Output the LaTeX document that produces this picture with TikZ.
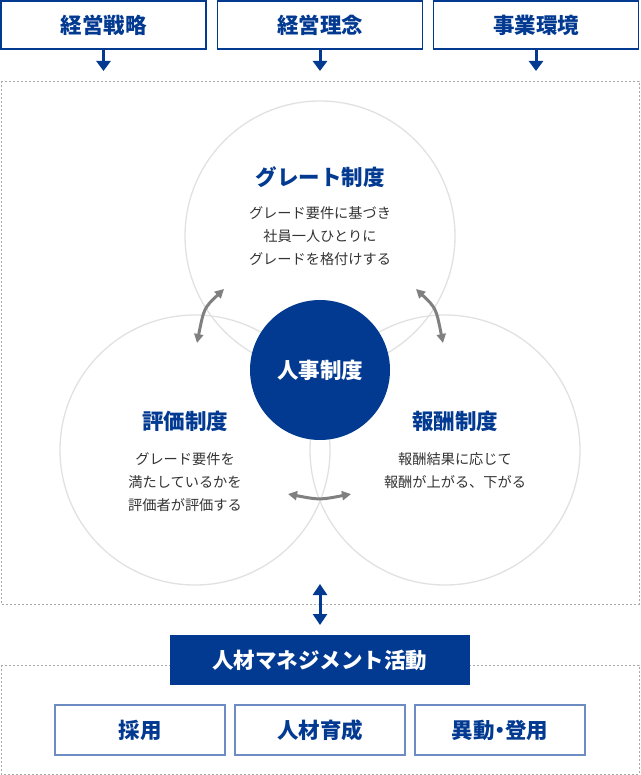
\documentclass[tikz,border=0pt]{standalone}
\usepackage{fontspec}
\setmainfont{Noto Sans CJK JP}
\usetikzlibrary{arrows.meta}
\definecolor{hrblue}{RGB}{3,58,145}
\definecolor{lightblue}{RGB}{110,140,196}
\definecolor{txt}{RGB}{51,51,51}
\definecolor{ring}{RGB}{225,225,225}
\definecolor{dash}{RGB}{170,170,170}
\definecolor{arr}{RGB}{128,128,128}
\tikzset{
  bigfont/.style={font=\fontsize{21.5}{25}\selectfont\bfseries},
  topbox/.style={draw=hrblue,line width=1.4pt,minimum width=205pt,minimum height=48pt,inner sep=0pt,bigfont,text=hrblue},
  botbox/.style={draw=lightblue,line width=1.4pt,minimum width=170pt,minimum height=50pt,inner sep=0pt,bigfont,text=hrblue},
  ringc/.style={draw=ring,line width=1.3pt,circle,minimum size=270pt,inner sep=0pt},
  ttl/.style={bigfont,text=hrblue,inner sep=0pt},
  desc/.style={font=\fontsize{14.2}{23}\selectfont,text=txt,align=center,inner sep=0pt},
  dashbox/.style={draw=dash,line width=0.8pt,dash pattern=on 2pt off 2pt},
  downarr/.style={draw=hrblue,line width=3pt,-{Triangle[width=14pt,length=10pt]}},
  grayarr/.style={draw=arr,line width=3pt,{Triangle[width=9pt,length=9pt]}-{Triangle[width=9pt,length=9pt]}},
}
\begin{document}
\begin{tikzpicture}[x=1pt,y=-1pt]
\useasboundingbox (0,0) rectangle (640,775);
% dashed regions
\draw[dashbox] (1,81) rectangle (639,604);
\draw[dashbox] (1,665) rectangle (639,774);
% top boxes
\node[topbox] (strat) at (103.5,25) {経営戦略};
\node[topbox] (phil) at (320,25) {経営理念};
\node[topbox] (env) at (536,25) {事業環境};
\coordinate (a1) at (103.5,71);
\coordinate (a2) at (320,71);
\coordinate (a3) at (536,71);
\draw[downarr] (strat.south) -- (a1);
\draw[downarr] (phil.south) -- (a2);
\draw[downarr] (env.south) -- (a3);
% rings
\node[ringc] (cg) at (320,236) {};
\node[ringc] (ce) at (195,450) {};
\node[ringc] (cr) at (445,450) {};
% center
\node[circle,fill=hrblue,minimum size=140pt,inner sep=0pt,text=white,bigfont] (core) at (320,370) {人事制度};
% titles and descriptions
\node[ttl] (tg) at (320,177) {グレート制度};
\node[desc] (dg) at (320,236) {グレード要件に基づき\\社員一人ひとりに\\グレードを格付けする};
\node[ttl] (te) at (185,421) {評価制度};
\node[desc] (de) at (185,482) {グレード要件を\\満たしているかを\\評価者が評価する};
\node[ttl] (tr) at (455,421) {報酬制度};
\node[desc] (dr) at (455,470.5) {報酬結果に応じて\\報酬が上がる、下がる};
% gray arrows
\coordinate (l1) at (224,289);
\coordinate (l2) at (197,343);
\coordinate (r1) at (416,289);
\coordinate (r2) at (443,343);
\coordinate (b1) at (288,494);
\coordinate (b2) at (351,494);
\draw[grayarr] (l1) .. controls (204,308) .. (l2);
\draw[grayarr] (r1) .. controls (436,308) .. (r2);
\draw[grayarr] (b1) .. controls (319.5,500) .. (b2);
% management box and vertical double arrow
\node[fill=hrblue,minimum width=300pt,minimum height=50pt,inner sep=0pt,text=white,bigfont] (mgmt) at (319.5,660) {人材マネジメント活動};
\coordinate (v1) at (320,584);
\coordinate (v2) at (320,625);
\draw[draw=hrblue,line width=3pt,{Triangle[width=14pt,length=11pt]}-{Triangle[width=14pt,length=11pt]}] (v1) -- (v2);
% bottom boxes
\node[botbox] (rec) at (140,730) {採用};
\node[botbox] (dev) at (320,730) {人材育成};
\node[botbox] (prom) at (500,730) {異動{\addfontfeature{RawFeature=+palt}・}登用};
\end{tikzpicture}
\end{document}
